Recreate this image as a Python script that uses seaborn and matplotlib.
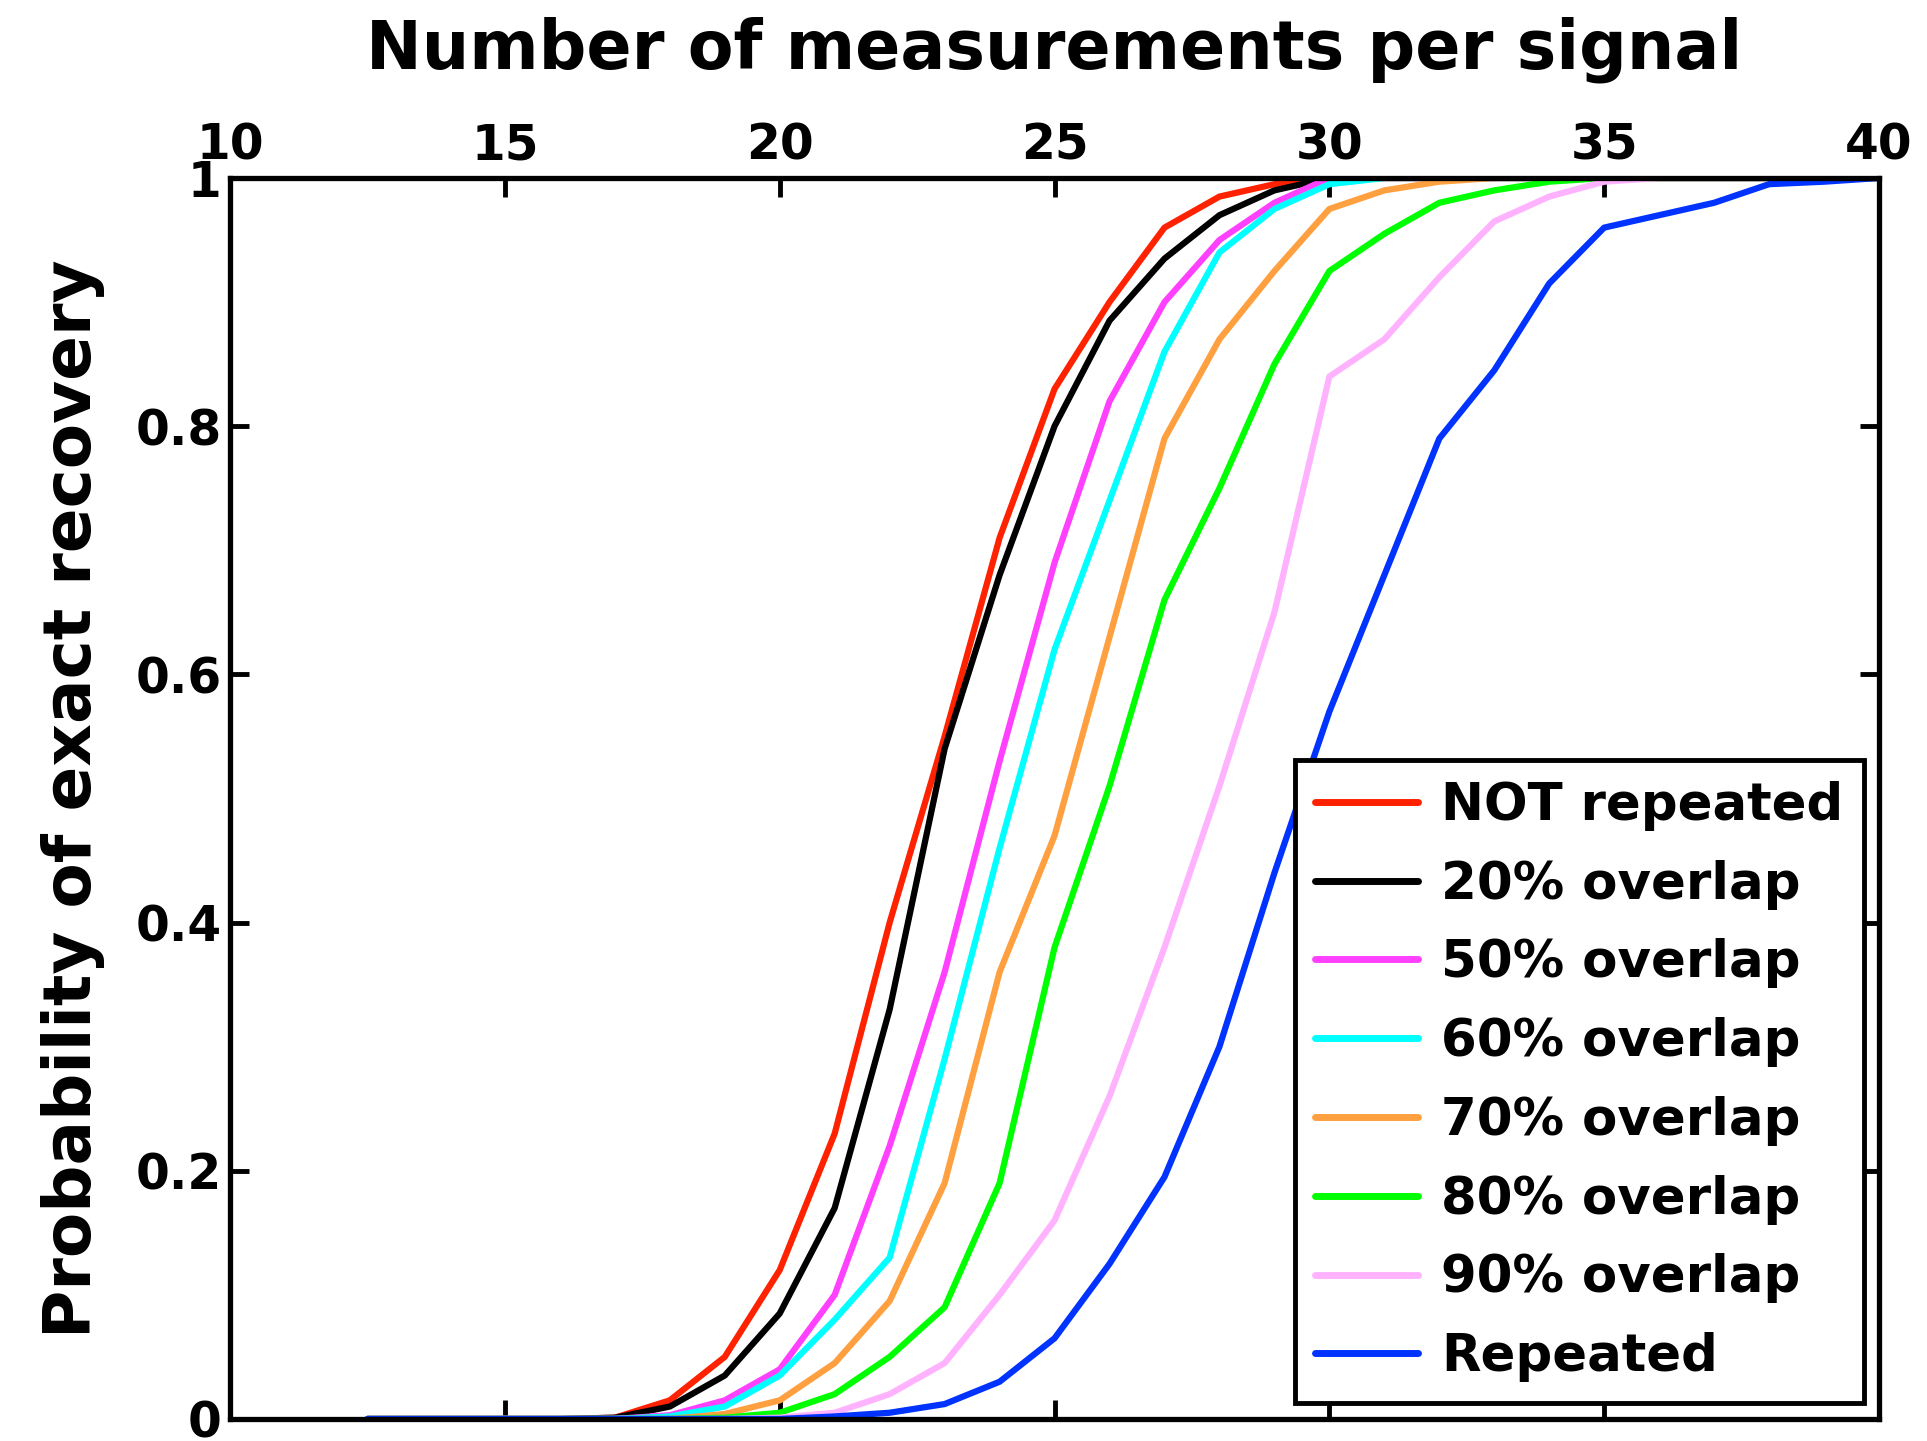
import numpy as np
import pandas as pd
import matplotlib
matplotlib.use("Agg")
import matplotlib.pyplot as plt
import seaborn as sns

# ---- data ----
x_vals = [12.5] + list(range(13, 41))

not_repeated = [0, 0, 0, 0, 0, 0.001, 0.015, 0.05, 0.12, 0.23, 0.40, 0.55, 0.71, 0.83, 0.90, 0.96, 0.985, 0.995, 1.0,
                1, 1, 1, 1, 1, 1, 1, 1, 1, 1]
overlap20 = [0, 0, 0, 0, 0, 0.001, 0.01, 0.035, 0.085, 0.17, 0.33, 0.54, 0.68, 0.80, 0.885, 0.935, 0.97, 0.99, 1.0,
             1, 1, 1, 1, 1, 1, 1, 1, 1, 1]
overlap50 = [0, 0, 0, 0, 0, 0, 0.003, 0.015, 0.04, 0.10, 0.22, 0.36, 0.53, 0.69, 0.82, 0.90, 0.95, 0.98, 1.0,
             1, 1, 1, 1, 1, 1, 1, 1, 1, 1]
overlap60 = [0, 0, 0, 0, 0, 0, 0.002, 0.01, 0.035, 0.08, 0.13, 0.29, 0.46, 0.62, 0.74, 0.86, 0.94, 0.975, 0.995,
             1, 1, 1, 1, 1, 1, 1, 1, 1, 1]
overlap70 = [0, 0, 0, 0, 0, 0, 0, 0.004, 0.015, 0.045, 0.095, 0.19, 0.36, 0.47, 0.63, 0.79, 0.87, 0.925, 0.975,
             0.99, 0.997, 1, 1, 1, 1, 1, 1, 1, 1]
overlap80 = [0, 0, 0, 0, 0, 0, 0, 0.001, 0.005, 0.02, 0.05, 0.09, 0.19, 0.38, 0.51, 0.66, 0.75, 0.85, 0.925,
             0.955, 0.98, 0.99, 0.997, 1.0, 1, 1, 1, 1, 1]
overlap90 = [0, 0, 0, 0, 0, 0, 0, 0, 0.001, 0.005, 0.02, 0.045, 0.10, 0.16, 0.26, 0.38, 0.51, 0.65, 0.84,
             0.87, 0.92, 0.965, 0.985, 0.997, 1.0, 1, 1, 1, 1]
repeated = [0, 0, 0, 0, 0, 0, 0, 0, 0, 0.002, 0.005, 0.012, 0.03, 0.065, 0.125, 0.195, 0.30, 0.44, 0.57,
            0.68, 0.79, 0.845, 0.915, 0.96, 0.97, 0.98, 0.995, 0.997, 1.0]

series_names = ["NOT repeated", "20% overlap", "50% overlap", "60% overlap",
                "70% overlap", "80% overlap", "90% overlap", "Repeated"]
series_values = [not_repeated, overlap20, overlap50, overlap60,
                 overlap70, overlap80, overlap90, repeated]
colors = ["#FF2200", "#000000", "#FF40FF", "#00FFFF",
          "#FFA040", "#00FF00", "#FFB3FF", "#0033FF"]

x_ticks = [10, 15, 20, 25, 30, 35, 40]
y_ticks = [0, 0.2, 0.4, 0.6, 0.8, 1.0]
y_tick_labels = ["0", "0.2", "0.4", "0.6", "0.8", "1"]

rows = []
for name, vals in zip(series_names, series_values):
    for xv, yv in zip(x_vals, vals):
        rows.append({"x": xv, "y": yv, "series": name})
df = pd.DataFrame(rows)

# ---- plot ----
sns.set_style("white")
plt.rcParams["font.family"] = ["DejaVu Sans"]
plt.rcParams["font.weight"] = "bold"
plt.rcParams["text.color"] = "black"
plt.rcParams["axes.labelcolor"] = "black"
plt.rcParams["xtick.color"] = "black"
plt.rcParams["ytick.color"] = "black"

fig = plt.figure(figsize=(19.27, 14.41), dpi=100)
ax = fig.add_axes([0.1194, 0.0153, 0.9751 - 0.1194, 0.8765 - 0.0153])

sns.lineplot(data=df, x="x", y="y", hue="series", hue_order=series_names,
             palette=colors, linewidth=4.5, ax=ax, legend=True)

ax.set_xlim(10, 40)
ax.set_ylim(0, 1)
ax.set_xticks(x_ticks)
ax.set_yticks(y_ticks)
ax.set_yticklabels(y_tick_labels)

ax.xaxis.tick_top()
ax.xaxis.set_label_position("top")
ax.set_xlabel("Number of measurements per signal", fontsize=48, fontweight="bold",
              labelpad=38, color="black")
ax.set_ylabel("Probability of exact recovery", fontsize=47.5, fontweight="bold",
              labelpad=22, color="black")

ax.tick_params(axis="both", which="both", direction="in", length=14, width=3.5,
               top=True, bottom=True, left=True, right=True, labelsize=35, pad=6,
               colors="black")
for lab in ax.get_xticklabels() + ax.get_yticklabels():
    lab.set_fontweight("bold")

for sp in ax.spines.values():
    sp.set_visible(True)
    sp.set_linewidth(3.8)
    sp.set_color("black")

leg = ax.legend(loc="lower right", bbox_to_anchor=(0.991, 0.013), fontsize=37,
                frameon=True, fancybox=False, handlelength=2.0, handletextpad=0.45,
                labelspacing=0.56, borderpad=0.4, borderaxespad=0)
leg.get_frame().set_edgecolor("black")
leg.get_frame().set_linewidth(3.5)
leg.get_frame().set_alpha(1)
for t in leg.get_texts():
    t.set_fontweight("bold")
    t.set_color("black")
for h in leg.get_lines():
    h.set_linewidth(5)

fig.savefig("out.png", dpi=100)
